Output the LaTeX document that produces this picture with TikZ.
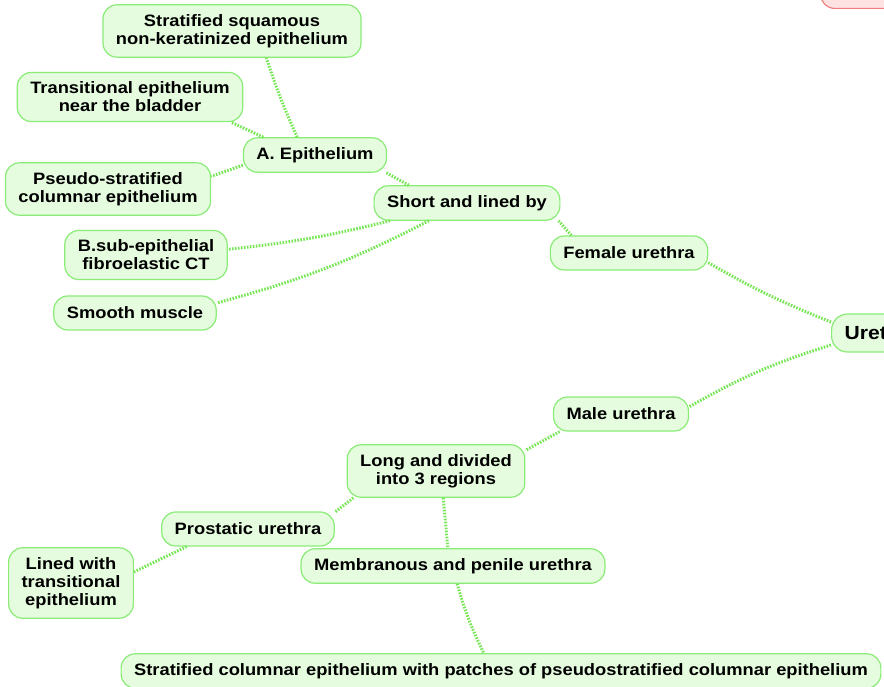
\documentclass[tikz,border=0pt]{standalone}
\usepackage{fontspec}
\setmainfont{Liberation Sans}[FakeStretch=1.11]
\usetikzlibrary{positioning}
\definecolor{mapdraw}{RGB}{138,236,118}
\definecolor{mapfill}{RGB}{229,252,223}
\definecolor{mapline}{RGB}{118,230,84}
\definecolor{rootdraw}{RGB}{240,128,128}
\definecolor{rootfill}{RGB}{255,226,226}
\begin{document}
\begin{tikzpicture}
[
x=1pt, y=-1pt,
topicnode/.style={rectangle, rounded corners=14pt, draw=mapdraw, fill=mapfill, line width=1.2pt, align=center, font=\bfseries\fontsize{16.5}{18}\selectfont, inner xsep=13pt, inner ysep=9.5pt, minimum height=34pt},
bignode/.style={topicnode, font=\bfseries\fontsize{19}{21}\selectfont, minimum height=38pt, rounded corners=16pt},
rootnode/.style={rectangle, rounded corners=14pt, draw=rootdraw, fill=rootfill, line width=1.2pt, minimum width=120pt, minimum height=40pt},
link/.style={draw=mapline, line width=3pt, dash pattern=on 1.6pt off 1.4pt},
]
\useasboundingbox (0,0) rectangle (884,687);
\clip (0,0) rectangle (884,687);
%draw the nodes of the upper branch
\node[rootnode, anchor=south west] (sys) at (820,9) {};
\node[bignode, anchor=west] (ure) at (831,333) {Urethra};
\node[topicnode] (female) at (629,253) {Female urethra};
\node[topicnode] (short) at (467,203) {Short and lined by};
\node[topicnode] (epi) at (315,155) {A. Epithelium};
\node[topicnode] (squam) at (232,31) {Stratified squamous\\non-keratinized epithelium};
\node[topicnode] (trans) at (130,97) {Transitional epithelium\\near the bladder};
\node[topicnode] (pseudo) at (108,189) {Pseudo-stratified\\columnar epithelium};
\node[topicnode] (subepi) at (146,255) {B.sub-epithelial\\fibroelastic CT};
\node[topicnode] (muscle) at (135,313) {Smooth muscle};
%draw the nodes of the lower branch
\node[topicnode] (male) at (621,414) {Male urethra};
\node[topicnode] (long) at (436,471) {Long and divided\\into 3 regions};
\node[topicnode] (prost) at (248,529) {Prostatic urethra};
\node[topicnode] (lined) at (71,583) {Lined with\\transitional\\epithelium};
\node[topicnode] (memb) at (453,566) {Membranous and penile urethra};
\node[topicnode] (colum) at (501,671) {Stratified columnar epithelium with patches of pseudostratified columnar epithelium};
%draw the links
\draw[link] ([yshift=11pt]ure.west) to[bend left=4] (female.-7);
\draw[link] (female.163) -- (short.-11);
\draw[link] (short.163) -- (epi.-14);
\draw[link] (epi.135) to[bend left=3] (squam.-38);
\draw[link] (epi.161) -- (trans.-14);
\draw[link] (epi.188) -- (pseudo.7);
\draw[link] (short.193) to[bend left=4] (subepi.4);
\draw[link] (short.205) to[bend left=6] (muscle.7);
\draw[link] ([yshift=-12pt]ure.west) to[bend right=6] (male.6);
\draw[link] (male.196) -- (long.13);
\draw[link] (long.198) -- (prost.11);
\draw[link] (long.-75) -- (memb.106);
\draw[link] (prost.196) -- (lined.10);
\draw[link] (memb.-77) to[bend right=5] (colum.134);
\end{tikzpicture}
\end{document}
